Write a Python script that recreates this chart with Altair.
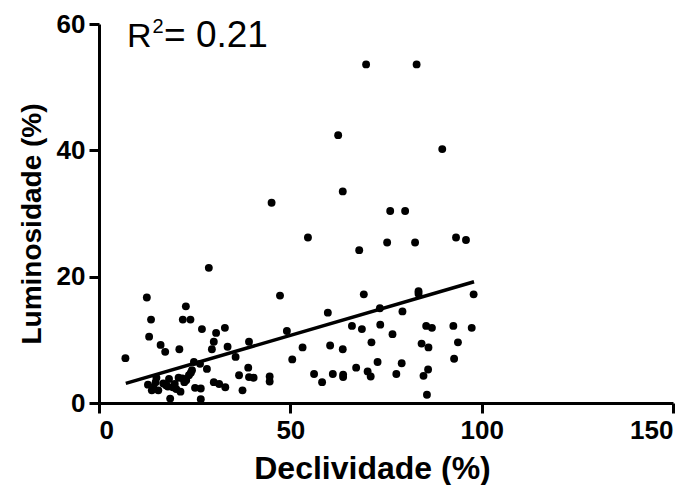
import altair as alt
import pandas as pd

# Declividade (%) values
decliv = [6.9, 12.5, 13.6, 13.1, 16.1, 17.3, 21.0, 22.7, 21.9, 23.9, 26.9, 28.7, 30.6,
          32.9, 30.0, 29.5, 33.6, 35.7, 39.2, 45.1, 47.3, 49.1, 50.5, 53.2, 54.6, 56.2,
          58.3, 59.8, 60.4, 61.1, 62.5, 63.7, 63.7, 63.8, 63.8, 66.1, 67.2, 68.0, 68.7,
          69.2, 69.8, 70.2, 71.0, 71.2, 72.8, 73.5, 73.4, 75.3, 76.1, 76.7, 77.7, 79.1,
          79.3, 80.0, 82.6, 83.0, 83.5, 83.5, 84.3, 84.8, 85.5, 85.7, 86.0, 86.1, 87.0,
          89.7, 92.6, 92.8, 93.3, 93.8, 95.9, 97.4, 97.9,
          12.8, 13.8, 14.8, 15.5, 16.8, 18.3, 18.6, 19.3, 20.8, 21.3, 22.3, 23.5, 24.3,
          24.8, 26.4, 25.1, 26.6, 26.6, 28.2, 30.0, 31.4, 33.0, 36.6, 37.5, 39.0, 39.2,
          40.4, 44.6, 44.6, 14.2, 17.5, 19.8, 20.2, 22.8, 15.0, 18.0, 21.8, 24.0]

# Luminosidade (%) values
lumin = [7.1, 16.7, 13.2, 10.5, 9.2, 8.1, 8.5, 15.3, 13.2, 13.2, 11.7, 21.4, 11.1,
         11.9, 9.7, 8.5, 8.9, 7.3, 9.7, 31.7, 17.0, 11.4, 6.9, 8.8, 26.2, 4.6,
         3.3, 14.3, 9.1, 4.6, 42.4, 33.5, 8.5, 4.5, 4.1, 12.2, 5.6, 24.2, 11.7,
         17.2, 53.6, 5.0, 4.2, 9.6, 6.5, 12.4, 15.0, 25.4, 30.4, 10.9, 4.6, 6.3,
         14.5, 30.4, 25.4, 53.6, 17.7, 17.3, 9.4, 4.3, 12.2, 1.3, 5.3, 8.8, 11.9,
         40.2, 12.2, 7.0, 26.2, 9.6, 25.8, 11.9, 17.2,
         2.9, 2.0, 3.3, 2.0, 3.1, 3.8, 0.7, 2.5, 4.0, 1.8, 3.3, 4.4, 5.2,
         6.5, 6.2, 2.4, 2.3, 0.6, 5.4, 3.3, 3.0, 2.5, 4.4, 2.0, 5.6, 4.1,
         4.0, 4.2, 3.4, 2.5, 2.8, 3.0, 2.2, 3.6, 4.0, 2.6, 3.9, 4.8]

# Fitted line end points
fit_x = [7.0, 98.0]
fit_y = [3.1, 19.2]

x_ticks = [0, 50, 100, 150]
y_ticks = [0, 20, 40, 60]
r2_parts = ["R", "2", "= 0.21"]

pts = pd.DataFrame({"x": decliv, "y": lumin})
fit = pd.DataFrame({"x": fit_x, "y": fit_y})

W, H = 574, 379

xscale = alt.Scale(domain=[0, 150], nice=False)
yscale = alt.Scale(domain=[0, 60], nice=False)

xaxis = alt.Axis(values=x_ticks, title="Declividade (%)", grid=False,
                 titlePadding=10, titleFontSize=32, titleX=W / 2 - 14)
yaxis = alt.Axis(values=y_ticks, title="Luminosidade (%)", grid=False,
                 titlePadding=10, titleY=H / 2 + 10)

points = alt.Chart(pts).mark_circle(size=62, color="black", opacity=1).encode(
    x=alt.X("x:Q", scale=xscale, axis=xaxis),
    y=alt.Y("y:Q", scale=yscale, axis=yaxis),
)

line = alt.Chart(fit).mark_line(color="black", strokeWidth=3.5).encode(
    x=alt.X("x:Q", scale=xscale),
    y=alt.Y("y:Q", scale=yscale),
)

def txt(s, size, x, y):
    return alt.Chart(pd.DataFrame({"t": [s]})).mark_text(
        align="left", baseline="alphabetic", fontSize=size,
        font="Liberation Sans", color="black"
    ).encode(x=alt.value(x), y=alt.value(y), text="t:N")

label = txt(r2_parts[0], 34, 28, 23) + txt(r2_parts[1], 20, 53.5, 9) + txt(r2_parts[2], 37, 65, 23)

chart = alt.layer(points, line, label).properties(
    width=W, height=H,
    autosize=alt.AutoSizeParams(type="none"),
    padding={"left": 91, "top": 16, "right": 12, "bottom": 82},
).configure_view(stroke=None).configure_axis(
    domainColor="black", domainWidth=3, tickColor="black", tickWidth=3,
    tickSize=10, labelFont="Liberation Sans", labelFontWeight="bold",
    labelFontSize=26, labelColor="black", labelPadding=4,
    titleFont="Liberation Sans", titleFontWeight="bold", titleFontSize=28,
    titleColor="black",
)

chart.save("out.html", embed_options={"renderer": "svg", "actions": False})
